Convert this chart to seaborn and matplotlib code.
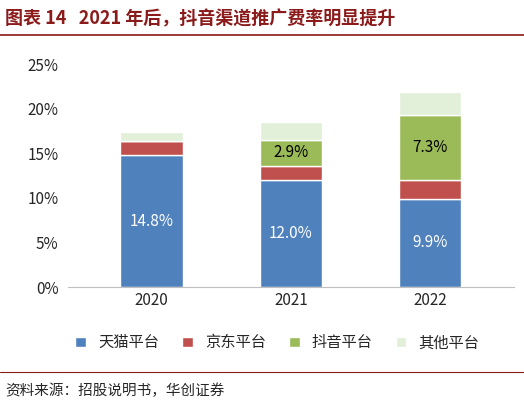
import matplotlib
matplotlib.use("Agg")
import matplotlib.pyplot as plt
import seaborn as sns
import pandas as pd

years = ["2020", "2021", "2022"]
tmall = [14.8, 12.0, 9.9]
jd = [1.6, 1.6, 2.1]
douyin = [0.0, 2.9, 7.3]
other = [1.0, 2.0, 2.6]
series = ["天猫平台", "京东平台", "抖音平台", "其他平台"]
colors = ["#4F81BD", "#C0504D", "#9BBB59", "#E2F0D9"]

sns.set_style("white")
plt.rcParams['font.family'] = ['Noto Sans CJK SC', 'DejaVu Sans']

df = pd.DataFrame({"year": years, series[0]: tmall, series[1]: jd, series[2]: douyin, series[3]: other})

fig = plt.figure(figsize=(5.24, 4.09), dpi=100)
ax = fig.add_axes([0.13, 0.298, 0.85, 0.545])

bottom = [0.0] * 3
for name, col in zip(series, colors):
    vals = df[name].tolist()
    sns.barplot(x=years, y=vals, ax=ax, color=col, bottom=bottom, width=0.45,
                saturation=1, label=name)
    bottom = [b + v for b, v in zip(bottom, vals)]

for i in range(3):
    ax.text(i, tmall[i] / 2, f"{tmall[i]:.1f}%", ha="center", va="center", color="white", fontsize=11)
    if douyin[i] > 0:
        ax.text(i, tmall[i] + jd[i] + douyin[i] / 2, f"{douyin[i]:.1f}%", ha="center", va="center", color="black", fontsize=11)

ax.set_ylim(0, 25)
ax.set_yticks(range(0, 26, 5))
ax.set_yticklabels([f"{v}%" for v in range(0, 26, 5)], fontsize=11)
ax.tick_params(axis="x", labelsize=11, length=0)
ax.set_xlim(-0.6, 2.6)
for s in ["top", "right", "left"]:
    ax.spines[s].set_visible(False)
ax.spines["bottom"].set_color("#BFBFBF")
ax.legend(loc="upper center", bbox_to_anchor=(0.47, -0.15), ncol=4, frameon=False,
          fontsize=11, handlelength=0.7, handleheight=0.7, columnspacing=1.5)

fig.text(0.01, 0.955, "图表 14   2021 年后，抖音渠道推广费率明显提升", fontsize=13,
         fontweight="bold", color="#8B1A1A", va="center")
fig.add_artist(plt.Line2D([0.0, 1.0], [0.915, 0.915], color="#8B1A1A", lw=1.2))
fig.add_artist(plt.Line2D([0.0, 1.0], [0.09, 0.09], color="#8B1A1A", lw=0.8))
fig.text(0.01, 0.045, "资料来源：招股说明书，华创证券", fontsize=10.5, style="italic", va="center")

fig.savefig("out.png", dpi=100)
